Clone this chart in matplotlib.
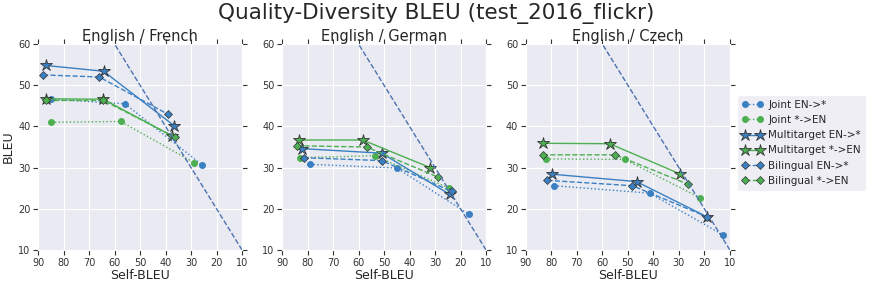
import numpy as np
import matplotlib
matplotlib.use("Agg")
import matplotlib.pyplot as plt
import seaborn as sns

sns.set_style("darkgrid")
plt.rcParams['font.family'] = ['DejaVu Sans']
plt.rcParams.update({
    'xtick.bottom': True, 'xtick.top': True,
    'ytick.left': True, 'ytick.right': True,
    'xtick.major.size': 3.5, 'ytick.major.size': 3.5,
    'xtick.major.width': 0.8, 'ytick.major.width': 0.8,
    'xtick.direction': 'out', 'ytick.direction': 'out',
    'xtick.color': '#333333', 'ytick.color': '#333333',
})

# --- data (Self-BLEU, BLEU) ---
panels = ["English / French", "English / German", "English / Czech"]

joint_en_x = [[84.8, 55.9, 25.6], [79.1, 45.0, 16.8], [78.9, 41.5, 12.5]]
joint_en_y = [[46.6, 45.5, 30.6], [30.8, 29.9, 18.7], [25.6, 23.8, 13.6]]
joint_to_x = [[84.8, 57.6, 28.8], [83.1, 53.6, 24.4], [82.0, 51.3, 21.8]]
joint_to_y = [[41.0, 41.2, 31.2], [32.4, 32.9, 25.0], [32.1, 32.0, 22.7]]

multi_en_x = [[87.0, 64.3, 36.5], [82.1, 50.9, 24.3], [79.8, 46.6, 18.8]]
multi_en_y = [[54.8, 53.4, 40.1], [34.6, 33.5, 23.5], [28.4, 26.6, 18.0]]
multi_to_x = [[86.7, 64.4, 37.5], [83.4, 58.4, 31.9], [83.3, 57.1, 29.7]]
multi_to_y = [[46.7, 46.6, 37.7], [36.7, 36.7, 30.0], [35.9, 35.8, 28.5]]

bil_en_x = [[88.0, 66.0, 38.9], [81.5, 50.9, 23.4], [81.5, 48.2, 18.8]]
bil_en_y = [[52.5, 52.0, 42.9], [32.4, 31.7, 24.2], [26.9, 25.6, 18.0]]
bil_to_x = [[86.7, 64.4, 36.2], [84.1, 56.8, 28.9], [83.3, 55.0, 26.5]]
bil_to_y = [[46.3, 46.3, 37.4], [35.3, 35.0, 27.7], [33.1, 33.1, 26.0]]

diag = [10, 90]

blue = "#3a80c2"
green = "#4caf50"

fig = plt.figure(figsize=(8.72, 2.86), dpi=100)
lefts = [0.0436, 0.3234, 0.603]
axes = [fig.add_axes([l, 0.126, 0.234, 0.72]) for l in lefts]

for i, ax in enumerate(axes):
    ax.plot(joint_en_x[i], joint_en_y[i], ':', color=blue, marker='o', ms=4,
            mec=blue, lw=1, label='Joint EN->*')
    ax.plot(joint_to_x[i], joint_to_y[i], ':', color=green, marker='o', ms=4,
            mec=green, lw=1, label='Joint *->EN')
    ax.plot(multi_en_x[i], multi_en_y[i], '-', color=blue, marker='*', ms=9,
            mec='#333333', mew=0.6, lw=1, label='Multitarget EN->*')
    ax.plot(multi_to_x[i], multi_to_y[i], '-', color=green, marker='*', ms=9,
            mec='#333333', mew=0.6, lw=1, label='Multitarget *->EN')
    ax.plot(bil_en_x[i], bil_en_y[i], '--', color=blue, marker='D', ms=4.5,
            mec='#333333', mew=0.5, lw=1, label='Bilingual EN->*')
    ax.plot(bil_to_x[i], bil_to_y[i], '--', color=green, marker='D', ms=4.5,
            mec='#333333', mew=0.5, lw=1, label='Bilingual *->EN')
    ax.plot(diag, diag, '--', color="#4c72b0", lw=1)

    ax.set_xlim(90, 10)
    ax.set_ylim(10, 60)
    ax.set_xticks(np.arange(90, 0, -10))
    ax.set_yticks(np.arange(10, 61, 10))
    ax.tick_params(labelsize=7, pad=2, labelcolor='#333333')
    ax.set_title(panels[i], fontsize=10.5, pad=1, color='#262626')
    ax.set_xlabel("Self-BLEU", fontsize=9, labelpad=1, color='#262626')

axes[0].set_ylabel("BLEU", fontsize=9, labelpad=2, color='#262626')

fig.suptitle("Quality-Diversity BLEU (test_2016_flickr)", fontsize=15.5,
             y=0.99, color='#262626')

leg = axes[2].legend(loc='center left', bbox_to_anchor=(1.01, 0.52),
                     fontsize=7.5, frameon=True, handlelength=2, numpoints=2,
                     borderpad=0.5, labelspacing=0.5, handletextpad=0.5)
leg.get_frame().set_facecolor('#eaeaf2')
leg.get_frame().set_edgecolor('white')

fig.savefig("out.png", dpi=100)
